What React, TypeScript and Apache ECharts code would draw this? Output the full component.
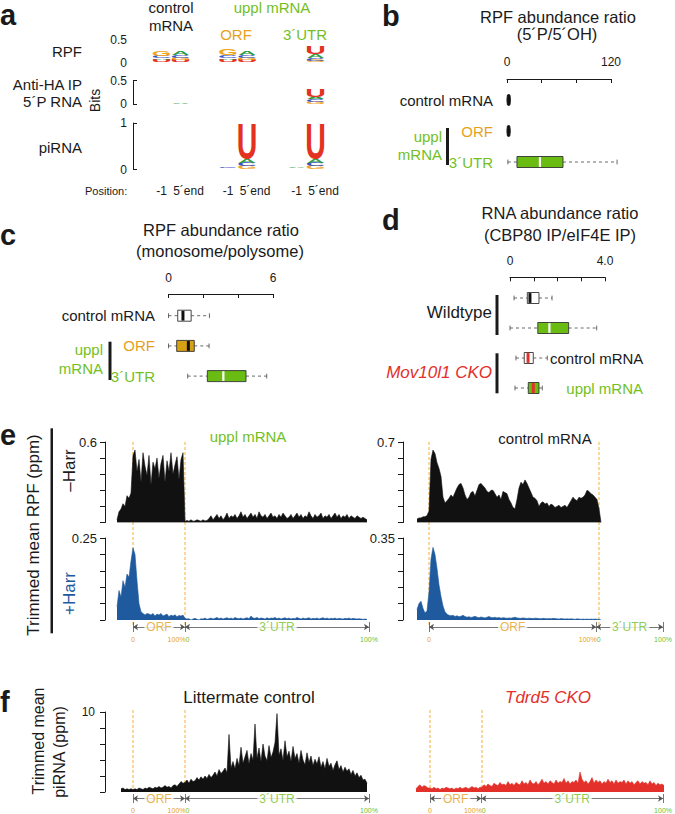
import React, { useEffect, useRef } from 'react';
import * as echarts from 'echarts';

const FONT = '"Liberation Sans", Arial, Helvetica, sans-serif';
const INK = '#1a1a1a';
const GREEN = '#72bf1e';
const GREEN_BOX = '#6abc12';
const ORANGE = '#e6a11c';
const ORANGE_BOX = '#d8a114';
const RED = '#e3302a';
const BLUE = '#1f5a9e';
const DASH = '#f5a623';
const PX = 2; // px per profile bin

// ===== a: sequence logos (bits); each stack listed top -> bottom =====
const logoPositions = ['-1', '5´end'];
const logoLetters = ['A', 'C', 'G', 'U'];
const logoColors = ['#2f9c45', '#3a56c6', '#f2a41c', '#e3321f'];
const rpfControlLogo = [[['G', 0.12], ['C', 0.06], ['A', 0.03], ['U', 0.06]], [['A', 0.09], ['C', 0.06], ['G', 0.04], ['U', 0.05]]];
const rpfOrfLogo = [[['G', 0.13], ['C', 0.06], ['A', 0.03], ['U', 0.06]], [['A', 0.09], ['C', 0.06], ['G', 0.04], ['U', 0.05]]];
const rpfUtrLogo = [[], [['U', 0.17], ['A', 0.09], ['C', 0.05], ['G', 0.04]]];
const haControlLogo = [[], [['A', 0.02]]];
const haOrfLogo = [[], []];
const haUtrLogo = [[], [['U', 0.16], ['A', 0.05], ['C', 0.05], ['G', 0.05]]];
const piControlLogo = [[], []];
const piOrfLogo = [[['C', 0.012], ['A', 0.01], ['G', 0.01], ['U', 0.006]], [['U', 0.78], ['A', 0.07], ['C', 0.07], ['G', 0.07]]];
const piUtrLogo = [[['A', 0.012], ['C', 0.01], ['G', 0.01], ['U', 0.006]], [['U', 0.78], ['A', 0.07], ['C', 0.07], ['G', 0.07]]];
const logoRowMax = [0.5, 0.5, 1];

// ===== b, c, d: box plots [min, q1, median, q3, max] =====
const bCategories = ['control mRNA', 'ORF', '3´UTR'];
const bStats = [[0, 0.3, 1.6, 3.6, 4], [0, 0.3, 1.4, 3.4, 3.8], [1, 11.5, 38, 64.6, 127]];
const bStyles = [0, 0, 3];
const cCategories = ['control mRNA', 'ORF', '3´UTR'];
const cStats = [[0, 0.53, 0.83, 1.3, 2.35], [0, 0.47, 1.14, 1.48, 2.33], [1.1, 2.23, 3.15, 4.45, 5.64]];
const cStyles = [1, 2, 3];
const dCategories = ['Wildtype control', 'Wildtype uppl', 'Mov10l1 CKO control', 'Mov10l1 CKO uppl'];
const dStats = [[0.17, 0.73, 0.84, 1.22, 1.77], [0, 1.17, 1.66, 2.47, 3.65], [0.25, 0.6, 0.76, 0.98, 1.57], [0.21, 0.77, 0.98, 1.22, 1.36]];
const dStyles = [1, 3, 4, 5];

// ===== e: trimmed mean RPF (ppm) =====
const upplMinusUtr5 = [.02, .08, .10, .14, .12, .20, .18, .22];
const upplMinusOrf = [.50, .54, .38, .47, .30, .52, .42, .35, .50, .28, .45, .40, .48, .33, .44, .50, .30, .46, .38, .52, .36, .43, .49, .32, .47, .52];
const upplMinusUtr3 = [.01, .015, .01, .02, .01, .012, .02, .015, .01, .02, .012, .015,
  .03, .05, .02, .04, .06, .03, .05, .02, .04, .07, .03, .05, .04, .06, .03, .05, .08, .04, .06, .03,
  .05, .07, .04, .06, .03, .08, .05, .04, .06, .03, .05, .07, .04, .05, .03, .06, .04, .07, .05, .03,
  .04, .06, .03, .05, .07, .04, .06, .03, .05, .04, .08, .05, .03, .06, .04, .05, .07, .03, .05, .04,
  .06, .03, .05, .07, .04, .06, .03, .05, .04, .06, .03, .05, .04, .03, .05, .04, .03, .04, .03, .02];
const upplPlusUtr5 = [.04, .09, .07, .12, .10, .14, .13, .18];
const upplPlusOrf = [.22, .20, .12, .05, .025, .02, .015, .02, .018, .015, .02, .012, .018, .015, .02, .012, .015, .018, .01, .015, .012, .016, .01, .014, .012, .015];
const upplPlusUtr3 = [.005, .003, .004, 0, .003, .005, .002, 0, .004, .003, .006, .002,
  .004, .006, .003, .005, .008, .004, .006, .003, .005, .007,
  .004, .006, .003, .008, .005, .004, .006, .003, .005, .007,
  .004, .012, .006, .005, .008, .004, .006, .005, .003, .007,
  .004, .006, .005, .008, .004, .006, .003, .005, .007, .004,
  .006, .003, .005, .004, .008, .005, .003, .006, .004, .005,
  .007, .003, .005, .004, .006, .003, .005, .007, .004, .006,
  .003, .005, .004, .006, .003, .005, .004, .003, .005, .004,
  .006, .003, .005, .004, .003, .004, .003, .002, .003, .002];
const ctrlMinusUtr5 = [.03, .04, .04, .05, .05, .06];
const ctrlMinusOrf = [.10, .55, .63, .60, .52, .47, .40, .22, .17, .19,
  .21, .24, .22, .26, .30, .33, .34, .30, .24, .20,
  .22, .26, .27, .23, .28, .33, .34, .32, .30, .27,
  .26, .28, .28, .25, .22, .24, .20, .27, .26, .25,
  .20, .17, .13, .12, .20, .30, .35, .33, .37, .34,
  .30, .26, .22, .21, .19, .14, .17, .18, .16, .17,
  .14, .16, .15, .13, .14, .15, .13, .14, .15, .13,
  .16, .19, .22, .20, .19, .22, .21, .22, .24, .28,
  .27, .25, .24, .22, .20];
const ctrlMinusUtr3 = [.12, 0];
const ctrlPlusUtr5 = [.045, .07, .08, .05, .03, .04];
const ctrlPlusOrf = [.12, .26, .31, .28, .22, .15, .10, .06, .035, .025,
  .02, .018, .02, .015, .018, .014, .016, .02, .015, .012,
  .014, .011, .013, .016, .012, .01, .013, .011, .009, .012,
  .015, .011, .01, .012, .009, .011, .008, .01, .009, .007,
  .009, .008, .01, .012, .009, .008, .007, .009, .008, .006,
  .008, .007, .006, .008, .007, .006, .005, .007, .006, .005,
  .006, .005, .007, .006, .005, .004, .006, .005, .004, .005,
  .004, .005, .004, .003, .005, .004, .003, .004, .003, .004,
  .003, .004, .003, .004, .003];
const ctrlPlusUtr3 = [.003, 0];
const ctrlUtr3Span = 34;

// ===== f: trimmed mean piRNA (ppm) =====
const piLitUtr5 = [.4, .5, .3, .4, .3, .4];
const piLitOrf = [.3, .4, .3, .5, .4, .3, .5, .4, .6, .5, .4, .6, .5, .7, .5, .6, .8, .6, .7, .5, .8, .9, .7, 1.0, 1.3, 1.1];
const piLitUtr3 = [1.2, 1.5, 1.1, 1.6, 1.3, 1.4, 1.8,
  1.5, 1.9, 1.6, 2.0, 1.7, 2.2, 1.8, 2.1,
  2.5, 2.0, 2.8, 2.3, 2.6, 3.0, 2.4,
  7.2,
  3.0, 3.8, 2.9, 4.2, 3.3, 5.6, 3.6,
  4.4, 5.2, 3.5, 4.8, 4.0,
  8.5,
  4.2, 5.5, 3.8, 6.0, 4.5, 3.9, 5.8, 4.3, 5.0,
  6.2, 9.8,
  4.6, 5.4, 3.9, 6.4, 4.4, 5.1, 3.8, 5.7, 4.2,
  4.8, 3.6, 5.2, 4.0, 3.4, 4.9, 3.7, 4.5, 3.3, 4.1,
  3.5, 4.4, 3.1, 3.8, 2.9, 4.2, 3.2, 3.6, 2.7, 3.4,
  3.9, 2.8, 3.3, 2.5, 3.1, 2.6, 2.9, 2.2, 2.7, 2.0,
  2.4, 1.8, 2.1, 1.5, 1.6, 1.1];
const piCkoUtr5 = [.4, .7, .9, .6, .8, .7, .5];
const piCkoOrf = [.5, .4, .6, .4, .5, .3, .5, .4, .6, .5, .4, .5, .3, .5, .4, .6, .4, .5, .6, .4, .5, .7, .5, .6, .4, .6];
const piCkoUtr3 = [.6, .9, .7, 1.0, .8, .7, 1.1, .9, .8, 1.2,
  .9, 1.0, .8, 1.3, .9, 1.1, .8, 1.2, 1.0, .9,
  1.4, 1.0, 1.2, .9, 1.5, 1.1, 1.0, 1.3, .9, 1.2,
  1.6, 1.1, 1.3, 1.0, 1.4, 1.2, 1.0, 1.5, 1.1, 1.3,
  1.2, 1.7, 1.1, 1.4, 1.0, 1.3, 1.2, 1.5, 1.1, 2.5,
  1.6, 1.2, 1.4, 1.0, 1.3, 1.8, 1.1, 1.5, 1.2, 1.4,
  1.0, 1.3, 1.1, 1.6, 1.2, 1.4, 1.0, 1.5, 1.1, 1.3,
  1.2, 1.5, 1.0, 1.4, 1.1, 1.3, .9, 1.2, 1.4, 1.0,
  1.3, 1.1, 1.2, .9, 1.4, 1.0, 1.2, .8, 1.1, .9,
  1.0, .8];

// ===== styles =====
const BOX_STYLES = [
  { fill: '#111', border: '#111', med: '#111', medW: 1, r: 2 },
  { fill: '#fff', border: '#333', med: '#111', medW: 3, r: 0 },
  { fill: ORANGE_BOX, border: '#333', med: '#111', medW: 3, r: 0 },
  { fill: GREEN_BOX, border: '#333', med: '#fff', medW: 2.2, r: 0 },
  { fill: '#fff', border: '#333', med: RED, medW: 3, r: 0 },
  { fill: GREEN_BOX, border: '#333', med: RED, medW: 3, r: 0 },
];
const CAT_COLOR: Record<string, string> = { 'control mRNA': 'k', 'ORF': 'o', '3´UTR': 'g' };
const LETTER_INK = [0.70, 0.64, 0.68, 0.60];
const CAP = 0.72;
const LF = 40;

function logoData(stacks: any[]) {
  const out: number[][] = [];
  stacks.forEach((stack: any[], pos: number) => {
    let y = 0;
    stack.slice().reverse().forEach((item: any) => {
      out.push([pos, y, y + item[1], logoLetters.indexOf(item[0])]);
      y += item[1];
    });
  });
  return out;
}

function renderLetter(_p: any, api: any) {
  const pos = api.value(0);
  const y0 = api.value(1);
  const y1 = api.value(2);
  const li = api.value(3);
  const top = api.coord([pos, y1]);
  const bot = api.coord([pos, y0]);
  const h = bot[1] - top[1];
  if (!(h > 0.05)) return null;
  const w = api.size([1, 0])[0] * 0.9;
  return {
    type: 'text',
    x: top[0],
    y: (top[1] + bot[1]) / 2,
    scaleX: w / (LETTER_INK[li] * LF),
    scaleY: h / (CAP * LF),
    silent: true,
    style: {
      text: logoLetters[li], font: `bold ${LF}px ${FONT}`, fill: logoColors[li],
      align: 'center', verticalAlign: 'middle', textAlign: 'center', textVerticalAlign: 'middle',
    },
  };
}

function renderBox(_p: any, api: any) {
  const c = api.value(0);
  const v = [1, 2, 3, 4, 5].map((i) => api.value(i));
  const st = BOX_STYLES[api.value(6)];
  const p = v.map((x) => api.coord([x, c]));
  const y = p[0][1];
  const hh = 5.5;
  const cap = 2.4;
  const ws = { stroke: '#444', lineWidth: 0.8 };
  return {
    type: 'group',
    children: [
      { type: 'line', shape: { x1: p[0][0], y1: y, x2: p[1][0], y2: y }, style: { ...ws, lineDash: [3, 3] } },
      { type: 'line', shape: { x1: p[3][0], y1: y, x2: p[4][0], y2: y }, style: { ...ws, lineDash: [3, 3] } },
      { type: 'line', shape: { x1: p[0][0], y1: y - cap, x2: p[0][0], y2: y + cap }, style: ws },
      { type: 'line', shape: { x1: p[4][0], y1: y - cap, x2: p[4][0], y2: y + cap }, style: ws },
      { type: 'rect', shape: { x: p[1][0], y: y - hh, width: p[3][0] - p[1][0], height: 2 * hh, r: st.r }, style: { fill: st.fill, stroke: st.border, lineWidth: 0.9 } },
      { type: 'line', shape: { x1: p[2][0], y1: y - hh + 0.6, x2: p[2][0], y2: y + hh - 0.6 }, style: { stroke: st.med, lineWidth: st.medW } },
    ],
  };
}

function renderGuide(_p: any, api: any) {
  const x = api.value(0);
  const top = api.coord([x, 1]);
  const bot = api.coord([x, 0]);
  return {
    type: 'line', silent: true,
    shape: { x1: top[0], y1: top[1], x2: bot[0], y2: bot[1] },
    style: { stroke: DASH, lineWidth: 0.9, lineDash: [3, 2] },
  };
}

function txt(text: string, x: number, y: number, o: any = {}) {
  const size = o.size ?? 15;
  const align = o.align ?? 'center';
  return {
    type: 'text', x, y, rotation: o.rot ? Math.PI / 2 : 0, silent: true, z: 10,
    style: {
      text, font: `${o.italic ? 'italic ' : ''}${o.bold ? 'bold ' : ''}${size}px ${FONT}`,
      fill: o.color ?? INK, align, verticalAlign: 'middle', textAlign: align, textVerticalAlign: 'middle',
    },
  };
}
const bar = (x: number, y: number, w: number, h: number) => ({ type: 'rect', silent: true, shape: { x, y, width: w, height: h }, style: { fill: INK } });

function buildOption() {
  const grid: any[] = [];
  const xAxis: any[] = [];
  const yAxis: any[] = [];
  const series: any[] = [];
  const add = (g: any, x: any, y: any) => {
    const i = grid.length;
    grid.push(g);
    xAxis.push({ gridIndex: i, ...x });
    yAxis.push({ gridIndex: i, ...y });
    return i;
  };
  const hiddenVal = (min: number, max: number) => ({ type: 'value', min, max, show: false, axisLine: { onZero: false } });

  // ---- a: logos
  const rows = [
    { top: 39.5, h: 23, stacks: [rpfControlLogo, rpfOrfLogo, rpfUtrLogo], bracket: false },
    { top: 80.5, h: 23.5, stacks: [haControlLogo, haOrfLogo, haUtrLogo], bracket: true },
    { top: 123, h: 46.5, stacks: [piControlLogo, piOrfLogo, piUtrLogo], bracket: true },
  ];
  const groupLeft = [152, 218.5, 287];
  rows.forEach((row, r) => {
    const max = logoRowMax[r];
    row.stacks.forEach((stacks: any, g: number) => {
      const isBottom = r === 2;
      const xa = {
        type: 'category', data: logoPositions, boundaryGap: true, show: isBottom,
        axisLine: { show: false }, axisTick: { show: false }, splitLine: { show: false },
        axisLabel: {
          show: isBottom, interval: 0, margin: 15.5, fontSize: 12, color: INK, fontFamily: FONT,
          formatter: (v: string) => (v === '-1' ? '{m|-1}' : '{e|' + v + '}'),
          rich: { m: { fontSize: 12, color: INK, fontFamily: FONT }, e: { fontSize: 12, color: INK, fontFamily: FONT, padding: [0, 0, 0, 16] } },
        },
      };
      const ya = g === 0 ? {
        type: 'value', min: 0, max, interval: max, offset: 19,
        axisLine: { show: row.bracket, onZero: false, lineStyle: { color: INK, width: 1 } },
        axisTick: { show: row.bracket, inside: true, length: 4, lineStyle: { color: INK } },
        axisLabel: { fontSize: 12, color: INK, margin: 6, fontFamily: FONT },
        splitLine: { show: false },
      } : hiddenVal(0, max);
      const gi = add({ left: groupLeft[g], top: row.top, width: 38, height: row.h }, xa, ya);
      series.push({ type: 'custom', xAxisIndex: gi, yAxisIndex: gi, renderItem: renderLetter, encode: { x: 0, y: [1, 2] }, data: logoData(stacks), silent: true, z: 3 });
    });
  });

  // ---- b, c, d: box plots
  const boxGrid = (left: number, top: number, h: number, width: number, cats: string[], stats: number[][], styles: number[],
    max: number, step: number, maxLabel: string, labelMargin: number, axisOffset: number, catMargin: number | null) => {
    const gi = add({ left, top, width, height: h },
      {
        type: 'value', position: 'top', min: 0, max, interval: step, offset: axisOffset,
        axisLine: { show: true, onZero: false, lineStyle: { color: INK, width: 1 } },
        axisTick: { show: true, inside: true, length: 4, lineStyle: { color: INK } },
        axisLabel: { fontSize: 12, color: INK, fontFamily: FONT, margin: labelMargin, formatter: (v: number) => (v === 0 ? '0' : Math.abs(v - max) < 1e-9 ? maxLabel : '') },
        splitLine: { show: false },
      },
      {
        type: 'category', inverse: true, data: cats, axisLine: { show: false, onZero: false }, axisTick: { show: false },
        axisLabel: catMargin == null ? { show: false } : {
          show: true, margin: catMargin, fontSize: 15, fontFamily: FONT,
          formatter: (v: string) => `{${CAT_COLOR[v]}|${v}}`,
          rich: {
            k: { color: INK, fontSize: 15, fontFamily: FONT },
            o: { color: ORANGE, fontSize: 15, fontFamily: FONT },
            g: { color: GREEN, fontSize: 15, fontFamily: FONT },
          },
        },
      });
    series.push({ type: 'custom', xAxisIndex: gi, yAxisIndex: gi, renderItem: renderBox, encode: { x: [1, 2, 3, 4, 5], y: 0 }, data: stats.map((s, i) => [i, ...s, styles[i]]), silent: true, z: 3 });
  };
  boxGrid(507, 84.5, 93, 104, bCategories, bStats, bStyles, 120, 40, '120', 11, 5.5, 14);
  boxGrid(168.5, 300.6, 90.6, 104.5, cCategories, cStats, cStyles, 6, 2, '6', 10, 6.6, 13.5);
  boxGrid(510, 283, 120, 95, dCategories, dStats, dStyles, 4, 1, '4.0', 10, 5.7, null);

  // ---- e, f: profiles
  const profile = (left: number, top: number, height: number, parts: number[][], span3: number, color: string, y: any) => {
    const values = ([] as number[]).concat(...parts);
    const total = parts[0].length + parts[1].length + span3;
    const ya = y.axisX == null ? hiddenVal(0, y.max) : {
      type: 'value', min: 0, max: y.max, interval: y.step, offset: left - y.axisX,
      axisLine: { show: true, onZero: false, lineStyle: { color: INK, width: 1 } },
      axisTick: { show: true, length: 5, lineStyle: { color: INK, width: 1 } },
      axisLabel: { fontSize: y.size, color: INK, fontFamily: FONT, margin: y.margin, formatter: (v: number) => (Math.abs(v - y.max) < 1e-9 ? y.label : '') },
      splitLine: { show: false },
    };
    const gi = add({ left, top, width: total * PX, height }, hiddenVal(0, total), ya);
    series.push({
      type: 'line', xAxisIndex: gi, yAxisIndex: gi, data: values.map((v, i) => [i, v]), color,
      symbol: 'none', showSymbol: false, lineStyle: { color, width: 0.6 }, areaStyle: { color, opacity: 1 }, z: 3, silent: true,
    });
  };
  const guides = (left: number, top: number, height: number, orfStart: number, orfEnd: number, total: number) => {
    const gi = add({ left, top, width: total * PX, height }, hiddenVal(0, total), hiddenVal(0, 1));
    series.push({
      type: 'custom', xAxisIndex: gi, yAxisIndex: gi, renderItem: renderGuide, encode: { x: 0, y: 1 },
      data: [[orfStart, 0], [orfEnd, 0]], z: 1, silent: true,
    });
  };
  const regionAxis = (left: number, top: number, orfStart: number, orfEnd: number, total: number) => {
    const gi = add({ left: left + orfStart * PX, top, width: (total - orfStart) * PX, height: 10 },
      {
        type: 'value', min: orfStart, max: total, axisLine: { show: false, onZero: false }, axisTick: { show: false }, splitLine: { show: false },
        axisLabel: {
          show: true, customValues: [orfStart, orfEnd, total], margin: 4, fontSize: 7, fontFamily: FONT,
          formatter: (v: number) => (v === orfStart ? '{o|0}' : v === orfEnd ? '{o|100%}{gp|0}' : '{g|100%}'),
          rich: {
            o: { color: ORANGE, fontSize: 7, fontFamily: FONT },
            g: { color: GREEN, fontSize: 7, fontFamily: FONT },
            gp: { color: GREEN, fontSize: 7, fontFamily: FONT, padding: [0, 13, 0, 0] },
          },
        },
      },
      hiddenVal(-1, 1));
    const tick = (x: number) => [{ coord: [x, -1], symbol: 'none' }, { coord: [x, 1], symbol: 'none' }];
    series.push({
      type: 'line', xAxisIndex: gi, yAxisIndex: gi, data: [[orfStart, 0]], symbol: 'none', color: '#555',
      lineStyle: { opacity: 0 }, z: 2, silent: true,
      markLine: {
        silent: true, symbol: ['arrow', 'arrow'], symbolSize: 5, label: { show: false },
        itemStyle: { color: '#555' },
        lineStyle: { color: '#555', width: 0.8, type: 'solid', opacity: 1 },
        data: [
          [{ coord: [orfStart, 0] }, { coord: [orfEnd, 0] }],
          [{ coord: [orfEnd, 0] }, { coord: [total, 0] }],
          tick(orfStart), tick(orfEnd), tick(total),
        ],
      },
    });
    series.push({
      type: 'scatter', xAxisIndex: gi, yAxisIndex: gi, symbolSize: 1, itemStyle: { color: 'rgba(0,0,0,0)' }, z: 5, silent: true,
      data: [
        { value: [(orfStart + orfEnd) / 2, 0], name: 'ORF', label: { color: ORANGE } },
        { value: [(orfEnd + total) / 2, 0], name: '3´UTR', label: { color: GREEN } },
      ],
      label: { show: true, position: 'inside', formatter: '{b}', fontSize: 12, fontFamily: FONT, backgroundColor: '#fff', padding: [0, 2] },
    });
  };

  const chart = (left: number, lay: any, minus: number[][], plus: number[][] | null, span3: number, yTop: any, yBot: any) => {
    const orfStart = minus[0].length;
    const orfEnd = orfStart + minus[1].length;
    const total = orfEnd + span3;
    guides(left, lay.guideTop, lay.guideH, orfStart, orfEnd, total);
    profile(left, lay.t1, lay.h1, minus, span3, lay.c1, yTop);
    if (plus) profile(left, lay.t2, lay.h2, plus, span3, lay.c2, yBot);
    regionAxis(left, lay.axisTop, orfStart, orfEnd, total);
  };

  const eLayout = { guideTop: 442, guideH: 185, t1: 442, h1: 80.5, t2: 538, h2: 82, c1: '#111', c2: BLUE, axisTop: 622 };
  chart(117, eLayout, [upplMinusUtr5, upplMinusOrf, upplMinusUtr3], [upplPlusUtr5, upplPlusOrf, upplPlusUtr3], upplMinusUtr3.length,
    { max: 0.6, step: 0.12, label: '0.6', axisX: 105, size: 13, margin: 8 },
    { max: 0.25, step: 0.05, label: '0.25', axisX: 105, size: 13, margin: 8 });
  chart(417, eLayout, [ctrlMinusUtr5, ctrlMinusOrf, ctrlMinusUtr3], [ctrlPlusUtr5, ctrlPlusOrf, ctrlPlusUtr3], ctrlUtr3Span,
    { max: 0.7, step: 0.14, label: '0.7', axisX: 403, size: 13, margin: 8 },
    { max: 0.35, step: 0.07, label: '0.35', axisX: 403, size: 13, margin: 8 });
  const fLit = { guideTop: 710, guideH: 82, t1: 712, h1: 80, c1: '#111', axisTop: 794 };
  chart(121, fLit, [piLitUtr5, piLitOrf, piLitUtr3], null, piLitUtr3.length,
    { max: 10, step: 2, label: '10', axisX: 105, size: 12, margin: 10 }, null);
  const fCko = { guideTop: 710, guideH: 82, t1: 712, h1: 80, c1: RED, axisTop: 794 };
  chart(416, fCko, [piCkoUtr5, piCkoOrf, piCkoUtr3], null, piCkoUtr3.length,
    { max: 10, step: 2 }, null);

  const graphic = [
    txt('a', 0, 15, { size: 29, bold: true, align: 'left' }),
    txt('b', 382, 15.5, { size: 29, bold: true, align: 'left' }),
    txt('c', 0, 234.6, { size: 29, bold: true, align: 'left' }),
    txt('d', 382, 219.6, { size: 29, bold: true, align: 'left' }),
    txt('e', 0, 434.6, { size: 29, bold: true, align: 'left' }),
    txt('f', 0, 701.6, { size: 29, bold: true, align: 'left' }),
    // a
    txt('control', 171, 7.6), txt('mRNA', 171, 25),
    txt('uppl mRNA', 272, 7.6, { color: GREEN }),
    txt('ORF', 236, 34, { color: ORANGE }), txt('3´UTR', 305, 34, { color: GREEN }),
    txt('RPF', 82, 51.8, { align: 'right' }),
    txt('Anti-HA IP', 82, 84.8, { align: 'right' }), txt('5´P RNA', 82, 101.8, { align: 'right' }),
    txt('piRNA', 82, 147.8, { align: 'right' }),
    txt('Bits', 95.2, 100.5, { rot: true, size: 14 }),
    txt('Position:', 85, 191, { size: 11, align: 'left' }),
    // b
    txt('RPF abundance ratio', 558, 16.6, { size: 16.5 }), txt('(5´P/5´OH)', 557, 33.6, { size: 16.5 }),
    txt('uppl', 442, 136.5, { align: 'right', color: GREEN }), txt('mRNA', 442, 154.8, { align: 'right', color: GREEN }),
    bar(446, 128, 3, 37),
    // c
    txt('RPF abundance ratio', 221, 230, { size: 16.5 }), txt('(monosome/polysome)', 220, 251.3, { size: 16.5 }),
    txt('uppl', 103, 349.8, { align: 'right', color: GREEN }), txt('mRNA', 103, 368.3, { align: 'right', color: GREEN }),
    bar(108.5, 341.7, 3, 38.3),
    // d
    txt('RNA abundance ratio', 560, 213.3, { size: 16.5 }), txt('(CBP80 IP/eIF4E IP)', 560, 234.6, { size: 16.5 }),
    txt('Wildtype', 492, 312.1, { size: 17, align: 'right' }),
    txt('Mov10l1 CKO', 492, 372.1, { size: 17, align: 'right', italic: true, color: RED }),
    txt('control mRNA', 550, 358.1, { align: 'left' }),
    txt('uppl mRNA', 643, 388.1, { align: 'right', color: GREEN }),
    bar(495.5, 295, 3, 40), bar(495.5, 353.3, 3, 40),
    // e
    txt('Trimmed mean RPF (ppm)', 33.8, 535, { rot: true, size: 17 }),
    txt('–Harr', 69, 470.5, { rot: true, size: 17 }),
    txt('+Harr', 69, 593.5, { rot: true, size: 17, color: BLUE }),
    txt('uppl mRNA', 248, 436.5, { color: GREEN }),
    txt('control mRNA', 545, 438.1),
    bar(50.5, 428.3, 2.5, 205),
    // f
    txt('Trimmed mean', 38.8, 741, { rot: true, size: 16 }),
    txt('piRNA (ppm)', 59.8, 752, { rot: true, size: 16 }),
    txt('Littermate control', 249, 697.4, { size: 17 }),
    txt('Tdrd5 CKO', 548, 697.4, { size: 17, italic: true, color: RED }),
  ];

  return {
    animation: false,
    backgroundColor: '#fff',
    textStyle: { fontFamily: FONT },
    grid, xAxis, yAxis, series,
    graphic: { elements: graphic },
  };
}

export default function App() {
  const ref = useRef<HTMLDivElement>(null);
  useEffect(() => {
    const chart = echarts.init(ref.current as HTMLDivElement, null, { renderer: 'svg' });
    chart.setOption(buildOption() as any);
    return () => chart.dispose();
  }, []);
  return <div ref={ref} style={{ position: 'absolute', left: 0, top: 0, width: 675, height: 814, background: '#fff' }} />;
}
